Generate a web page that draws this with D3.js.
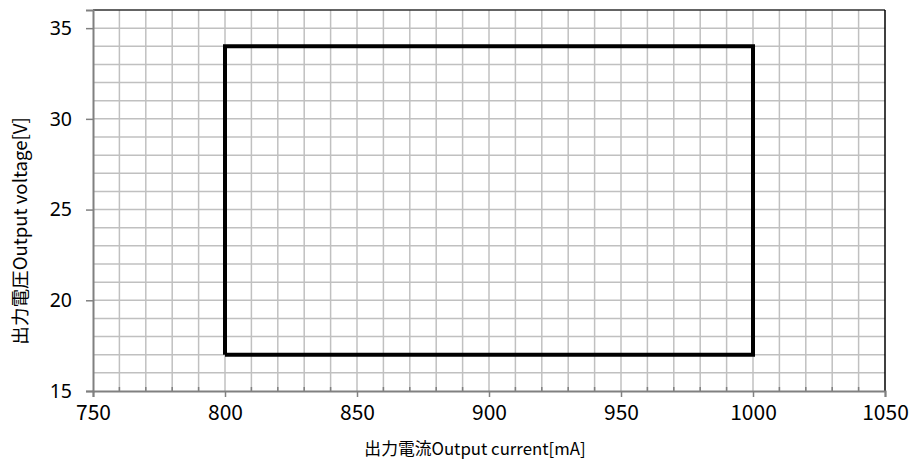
<!DOCTYPE html>
<html><head><meta charset="utf-8">
<script src="https://cdn.jsdelivr.net/npm/d3@7"></script>
<style>body{margin:0;background:#fff}svg{display:block}</style>
</head><body>
<svg id="c" width="909" height="461"></svg>
<script>
// Data
const xTicks = [750, 800, 850, 900, 950, 1000, 1050];
const yTicks = [15, 20, 25, 30, 35];
const regionCurrent = [800, 1000, 1000, 800, 800];
const regionVoltage = [17, 17, 34, 34, 17];
const xTitle = "出力電流Output current[mA]";
const yTitle = "出力電圧Output voltage[V]";

const svg = d3.select("#c");
const L = 93, R = 885, T = 10, B = 391;
const x = d3.scaleLinear().domain([750, 1050]).range([L, R]);
const y = d3.scaleLinear().domain([15, 36]).range([B, T]);

const grid = svg.append("g");
const xMinor = d3.range(760, 1050, 10);
const yMinor = d3.range(16, 36, 1);
grid.selectAll("line.vx").data(xMinor).enter().append("line")
  .attr("x1", d => x(d)).attr("x2", d => x(d)).attr("y1", T).attr("y2", B)
  .attr("stroke", "#c0c0c0").attr("stroke-width", 1.5);
grid.selectAll("line.hy").data(yMinor).enter().append("line")
  .attr("x1", L).attr("x2", R).attr("y1", d => y(d)).attr("y2", d => y(d))
  .attr("stroke", "#c0c0c0").attr("stroke-width", 1.5);

// top & right border
svg.append("line").attr("x1", L).attr("x2", R).attr("y1", T).attr("y2", T).attr("stroke", "#303030").attr("stroke-width", 1.5);
svg.append("line").attr("x1", R).attr("x2", R).attr("y1", T).attr("y2", B).attr("stroke", "#000").attr("stroke-width", 1.5);

// bottom axis minor ticks (inside)
svg.selectAll("line.mt").data(xMinor.filter(d => d % 50 !== 0)).enter().append("line")
  .attr("x1", d => x(d)).attr("x2", d => x(d)).attr("y1", B - 4).attr("y2", B)
  .attr("stroke", "#808080").attr("stroke-width", 1.5);

const xAxis = svg.append("g").attr("transform", `translate(0,${B})`)
  .call(d3.axisBottom(x).tickValues(xTicks).tickFormat(d3.format("d")).tickSizeOuter(0).tickSize(6).tickPadding(8));
xAxis.select(".domain").attr("stroke", "#808080").attr("stroke-width", 2);
xAxis.selectAll(".tick line").attr("stroke", "#808080").attr("stroke-width", 1.5);
xAxis.selectAll(".tick text").attr("font-family", "'Noto Sans CJK JP', sans-serif").attr("font-size", 21).attr("fill", "#000");

const yAxis = svg.append("g").attr("transform", `translate(${L},0)`)
  .call(d3.axisLeft(y).tickValues(yTicks).tickFormat(d3.format("d")).tickSizeOuter(0).tickSize(7).tickPadding(14));
yAxis.select(".domain").attr("stroke", "#808080").attr("stroke-width", 2);
yAxis.selectAll(".tick line").attr("stroke", "#808080").attr("stroke-width", 1.5);
yAxis.selectAll(".tick text").attr("font-family", "'Noto Sans', sans-serif").attr("font-size", 19.5).attr("fill", "#000");

// region
const line = d3.line().x(d => x(d[0])).y(d => y(d[1]));
svg.append("path").datum(regionCurrent.map((c, i) => [c, regionVoltage[i]]))
  .attr("d", line).attr("fill", "none").attr("stroke", "#000").attr("stroke-width", 4)
  .attr("stroke-linejoin", "miter");

svg.append("text").attr("x", 475).attr("y", 455).attr("text-anchor", "middle")
  .attr("font-family", "'Noto Sans CJK JP', sans-serif").attr("font-size", 16.8).text(xTitle);
svg.append("text").attr("transform", "translate(27,231) rotate(-90)").attr("text-anchor", "middle")
  .attr("font-family", "'Noto Sans CJK JP', sans-serif").attr("font-size", 18.6).text(yTitle);
</script>
</body></html>
